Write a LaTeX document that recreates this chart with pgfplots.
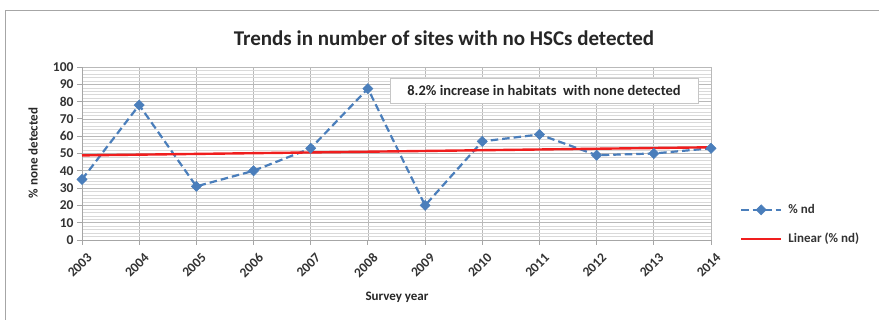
\documentclass[border=0pt]{standalone}
\usepackage{pgfplots}
\pgfplotsset{compat=1.18}
\usepackage{fontspec}
\setmainfont{Carlito}
\definecolor{exblue}{HTML}{4A7EBB}
\definecolor{exred}{HTML}{F01E1E}
\begin{document}
\begin{tikzpicture}[x=1pt,y=1pt]
\useasboundingbox (0,0) rectangle (879,320);
\draw[gray!70, line width=1pt] (5,-5) -- (5,309) -- (885,309);
\node[font=\fontsize{21}{24}\selectfont\bfseries, text=black!85] at (444,282) {Trends in number of sites with no HSCs detected};
\begin{axis}[
  at={(82pt,80pt)}, anchor=south west,
  scale only axis, width=629pt, height=173pt,
  xmin=2003, xmax=2014, ymin=0, ymax=100,
  xtick={2003,2004,...,2014}, ytick={0,10,...,100},
  minor x tick num=4, minor y tick num=4,
  grid=both,
  major grid style={gray!55, line width=0.6pt},
  minor grid style={gray!30, line width=0.4pt},
  axis x line=bottom, axis y line=left,
  axis line style={gray!70, line width=0.8pt, -},
  tick align=outside,
  major tick length=5pt, minor tick length=0pt,
  tick style={gray!70, line width=0.8pt},
  /pgf/number format/assume math mode=true,
  /pgf/number format/1000 sep={},
  ticklabel style={font=\fontsize{13.5}{15}\selectfont\bfseries, text=black!80},
  xticklabel style={xshift=10pt, yshift=-8pt, rotate=45, anchor=east},
  legend style={draw=none, fill=none, at={(axis description cs:1.041,0.09)}, anchor=west,
    font=\fontsize{13}{15}\selectfont\bfseries, text=black!80, row sep=14pt},
  legend cell align=left,
  legend image code/.code={\draw[mark repeat=2,mark phase=2,#1] plot coordinates {(0pt,0pt)(20pt,0pt)(40pt,0pt)}; \path (0pt,0pt) (44pt,0pt);},
]
\addplot[color=exblue, line width=2.2pt, dash pattern=on 7.5pt off 4pt, mark=square*, mark size=3.6pt,
  mark options={solid, rotate=45, fill=exblue, draw=exblue, line width=0.5pt}]
  coordinates {(2003,35)(2004,78)(2005,31)(2006,40)(2007,53)(2008,87.5)(2009,20)(2010,57)(2011,61)(2012,49)(2013,50)(2014,53)};
\addlegendentry{\% nd}
\addplot[color=exred, line width=2.4pt] coordinates {(2003,48.9)(2014,53.6)};
\addlegendentry{Linear (\% nd)}
\end{axis}
\node[draw=gray!45, line width=0.8pt, fill=white, minimum width=308pt, minimum height=25pt,
  font=\fontsize{14.5}{16}\selectfont\bfseries, text=black!85] at (544,229.5) {8.2\% increase in habitats\ \ with none detected};
\node[rotate=90, font=\fontsize{13}{15}\selectfont\bfseries, text=black!85] at (33,167) {\% none detected};
\node[font=\fontsize{13}{15}\selectfont\bfseries, text=black!85] at (397,23) {Survey year};
\end{tikzpicture}
\end{document}
